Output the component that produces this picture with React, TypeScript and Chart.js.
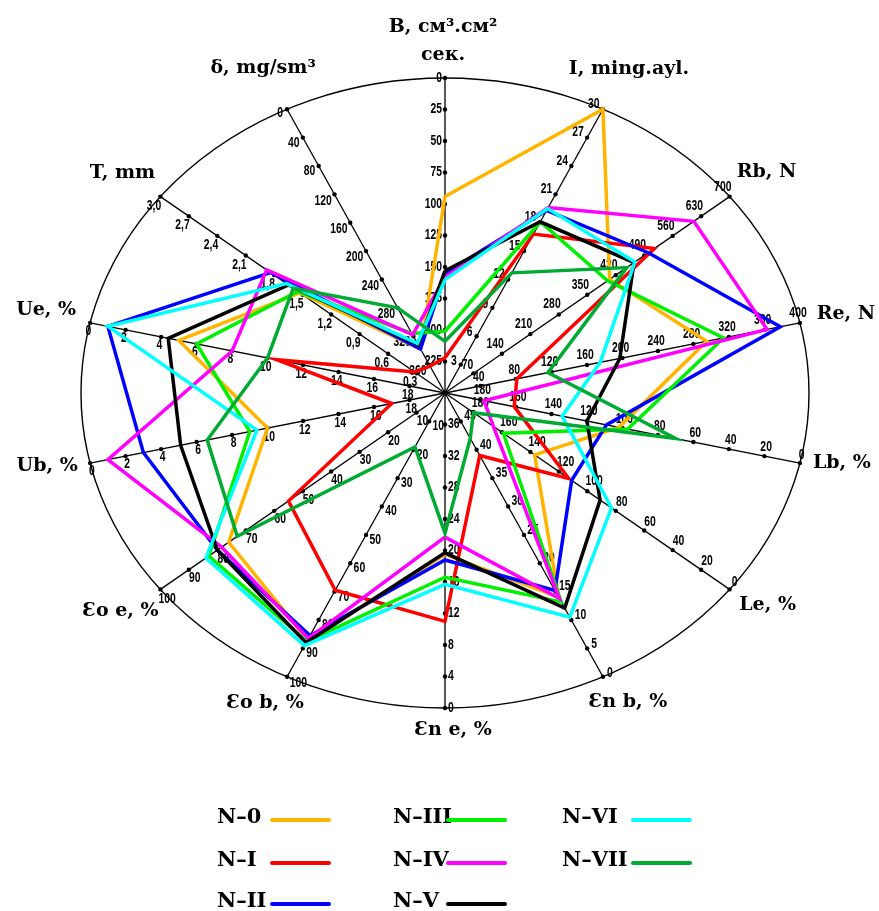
import { useEffect, useRef } from 'react';
import { Chart, registerables } from 'chart.js';

Chart.register(...registerables);

// ---- axes (clockwise from the top) ----
const axisTitles = [
  'B, см³.см²\nсек.',
  'I, ming.ayl.',
  'Rb, N',
  'Re, N',
  'Lb, %',
  'Le, %',
  'Ɛn b, %',
  'Ɛn e, %',
  'Ɛo b, %',
  'Ɛo e, %',
  'Ub, %',
  'Ue, %',
  'T, mm',
  'δ, mg/sm³',
];
// value at the outer ellipse and at the centre of each axis
const axisOuter = [0, 30, 700, 400, 0, 0, 0, 0, 100, 100, 0, 0, 3.0, 0];
const axisCenter = [250, 0, 0, 0, 200, 200, 50, 40, 0, 0, 20, 20, 0, 400];

// tick labels, from the outer end toward the centre
const ticksB = ['0', '25', '50', '75', '100', '125', '150', '175', '200', '225'];
const ticksI = ['30', '27', '24', '21', '18', '15', '12', '9', '6', '3'];
const ticksRb = ['700', '630', '560', '490', '420', '350', '280', '210', '140', '70'];
const ticksRe = ['400', '360', '320', '280', '240', '200', '160', '120', '80', '40'];
const ticksL = ['0', '20', '40', '60', '80', '100', '120', '140', '160', '180'];
const ticksEnb = ['0', '5', '10', '15', '20', '25', '30', '35', '40', '45'];
const ticksEne = ['0', '4', '8', '12', '16', '20', '24', '28', '32', '36'];
const ticksEo = ['100', '90', '80', '70', '60', '50', '40', '30', '20', '10'];
const ticksU = ['0', '2', '4', '6', '8', '10', '12', '14', '16', '18'];
const ticksT = ['3,0', '2,7', '2,4', '2,1', '1,8', '1,5', '1,2', '0,9', '0,6', '0,3'];
const ticksDelta = ['0', '40', '80', '120', '160', '200', '240', '280', '320', '360'];
const axisTicks = [
  ticksB, ticksI, ticksRb, ticksRe, ticksL, ticksL, ticksEnb,
  ticksEne, ticksEo, ticksEo, ticksU, ticksU, ticksT, ticksDelta,
];

// ---- series (values in axis order: B, I, Rb, Re, Lb, Le, Ɛn b, Ɛn e, Ɛo b, Ɛo e, Ub, Ue, T, δ) ----
const seriesNames = ['N–0', 'N–I', 'N–II', 'N–III', 'N–IV', 'N–V', 'N–VI', 'N–VII'];
const n0 = [94, 30, 405, 295, 102, 137, 14, 19.5, 87, 76, 10, 5.0, 1.53, 338];
const nI = [222, 16.8, 515, 81, 161, 113, 39, 11, 69.5, 55, 17, 10.5, 0.32, 362];
const nII = [155, 19.3, 500, 378, 109, 111, 15.2, 18.8, 85.5, 80, 3.0, 1.0, 1.84, 338];
const nIII = [201, 18.1, 400, 314, 97, 159, 13.2, 16.6, 87.5, 83, 9.0, 6.0, 1.55, 316];
const nIV = [158, 19.6, 612, 363, 178, 166, 13.8, 21.7, 86.5, 78.5, 1.0, 8.0, 1.88, 318];
const nV = [153, 18.1, 465, 197, 120, 91, 12.1, 19.7, 88, 80, 5.1, 4.4, 1.65, 332];
const nVI = [160, 19.5, 467, 175, 134, 83, 10.5, 15.7, 89, 84, 9.4, 1.0, 1.67, 330];
const nVII = [209, 12.7, 447, 116, 70, 180, 42, 22.2, 19, 73, 6.6, 10, 1.6, 280];
const seriesValues = [n0, nI, nII, nIII, nIV, nV, nVI, nVII];
const seriesColors = ['#FFB400', '#FF0000', '#0000FF', '#00F000', '#FF00FF', '#000000', '#00FFFF', '#00AA33'];

// ---- layout (pixels) ----
const titleOffsets: [number, number][] = [
  [-2, -51], [26, -40], [37, -25], [46, -9], [42, 0], [38, 16], [25, 25],
  [8, 22], [-22, 26], [-40, 22], [-43, 3], [-44, -13], [-38, -24], [-24, -41],
];
const legendCols = [217, 393, 562];
const legendLineX: [number, number][] = [[272, 329], [448, 505], [633, 690]];
const legendRows = [818, 861, 902];

const N_AXES = axisTitles.length;
const angleOf = (k: number) => (k * 2 * Math.PI) / N_AXES;
const fracOf = (k: number, v: number) => (v - axisCenter[k]) / (axisOuter[k] - axisCenter[k]);

function toPoints(values: number[]) {
  const pts = values.map((v, k) => {
    const f = fracOf(k, v);
    return { x: f * Math.sin(angleOf(k)), y: f * Math.cos(angleOf(k)) };
  });
  pts.push(pts[0]);
  return pts;
}

const TITLE_FONT = 'bold 19px "DejaVu Serif", "Liberation Serif", serif';
const TICK_FONT = 'bold 14px "Liberation Sans", Arial, sans-serif';
const TICK_SQUEEZE = 0.74;

const framePlugin = {
  id: 'radarFrame',
  beforeDatasetsDraw(chart: any) {
    const ctx: CanvasRenderingContext2D = chart.ctx;
    const xs = chart.scales.x;
    const ys = chart.scales.y;
    const cx = xs.getPixelForValue(0);
    const cy = ys.getPixelForValue(0);
    const rx = xs.getPixelForValue(1) - cx;
    const ry = cy - ys.getPixelForValue(1);
    ctx.save();
    ctx.fillStyle = '#fff';
    ctx.fillRect(0, 0, chart.width, chart.height);
    ctx.strokeStyle = '#000';
    ctx.fillStyle = '#000';
    ctx.lineWidth = 1.4;
    ctx.beginPath();
    ctx.ellipse(cx, cy, rx, ry, 0, 0, Math.PI * 2);
    ctx.stroke();

    for (let k = 0; k < N_AXES; k++) {
      const sx = Math.sin(angleOf(k));
      const sy = Math.cos(angleOf(k));
      const ex = xs.getPixelForValue(sx);
      const ey = ys.getPixelForValue(sy);
      ctx.lineWidth = 1.3;
      ctx.beginPath();
      ctx.moveTo(cx, cy);
      ctx.lineTo(ex, ey);
      ctx.stroke();
      const len = Math.hypot(ex - cx, ey - cy);
      const ux = (ex - cx) / len;
      const uy = (ey - cy) / len;
      const nx = uy;
      const ny = -ux;
      ctx.font = TICK_FONT;
      ctx.textAlign = 'center';
      ctx.textBaseline = 'middle';
      axisTicks[k].forEach((lab, j) => {
        const f = 1 - j / 10;
        const px = xs.getPixelForValue(f * sx);
        const py = ys.getPixelForValue(f * sy);
        ctx.beginPath();
        ctx.arc(px, py, 2.2, 0, Math.PI * 2);
        ctx.fill();
        const w = ctx.measureText(lab).width * TICK_SQUEEZE;
        const off = 3 + Math.abs(nx) * w / 2 + Math.abs(ny) * 5;
        ctx.save();
        ctx.translate(px + nx * off, py + ny * off);
        ctx.scale(TICK_SQUEEZE, 1);
        ctx.fillText(lab, 0, 0);
        ctx.restore();
      });
      // axis title
      ctx.font = TITLE_FONT;
      const lines = axisTitles[k].split('\n');
      const [dx, dy] = titleOffsets[k];
      lines.forEach((ln, i) => {
        ctx.fillText(ln, ex + dx, ey + dy + i * 28);
      });
    }
    ctx.beginPath();
    ctx.arc(cx, cy, 2.5, 0, Math.PI * 2);
    ctx.fill();
    ctx.restore();
  },
  afterDraw(chart: any) {
    const ctx: CanvasRenderingContext2D = chart.ctx;
    ctx.save();
    ctx.font = 'bold 21px "DejaVu Serif", "Liberation Serif", serif';
    ctx.textAlign = 'left';
    ctx.textBaseline = 'middle';
    seriesNames.forEach((name, i) => {
      const col = Math.floor(i / 3);
      const row = i % 3;
      const y = legendRows[row];
      ctx.fillStyle = '#000';
      ctx.fillText(name, legendCols[col], y);
      ctx.strokeStyle = seriesColors[i];
      ctx.lineWidth = 4;
      ctx.lineCap = 'round';
      ctx.beginPath();
      ctx.moveTo(legendLineX[col][0], y + 2);
      ctx.lineTo(legendLineX[col][1], y + 2);
      ctx.stroke();
    });
    ctx.restore();
  },
};

export default function App() {
  const ref = useRef<HTMLCanvasElement>(null);
  useEffect(() => {
    if (!ref.current) return;
    const chart = new Chart(ref.current, {
      type: 'scatter',
      data: {
        datasets: seriesValues.map((vals, i) => ({
          label: seriesNames[i],
          data: toPoints(vals),
          showLine: true,
          borderColor: seriesColors[i],
          backgroundColor: seriesColors[i],
          borderWidth: 3.5,
          pointRadius: 0,
          pointHoverRadius: 0,
          fill: false,
          tension: 0,
          clip: false,
          order: seriesValues.length - i,
        })),
      },
      options: {
        responsive: false,
        maintainAspectRatio: false,
        animation: false,
        events: [],
        layout: { padding: { left: 81, right: 70, top: 78, bottom: 203 } },
        scales: {
          x: { type: 'linear', min: -1, max: 1, display: false },
          y: { type: 'linear', min: -1, max: 1, display: false },
        },
        plugins: { legend: { display: false }, tooltip: { enabled: false }, title: { display: false } },
      } as any,
      plugins: [framePlugin],
    });
    return () => chart.destroy();
  }, []);
  return (
    <div style={{ position: 'absolute', left: 0, top: 0, width: 879, height: 911, background: '#fff' }}>
      <canvas ref={ref} width={879} height={911} style={{ display: 'block' }} />
    </div>
  );
}
